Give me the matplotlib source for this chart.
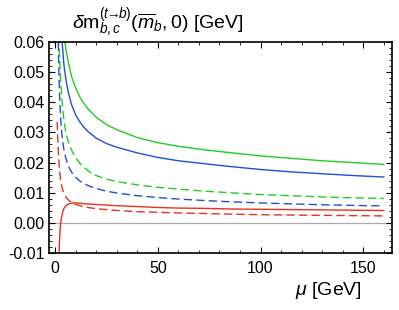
import matplotlib
matplotlib.use("Agg")
import matplotlib.pyplot as plt
from matplotlib.ticker import MultipleLocator, FormatStrFormatter

plt.rcParams['font.family'] = ['Liberation Sans', 'DejaVu Sans']
plt.rcParams['mathtext.fontset'] = 'custom'
plt.rcParams['mathtext.rm'] = 'Liberation Sans'
plt.rcParams['mathtext.it'] = 'Liberation Sans:italic'
plt.rcParams['axes.unicode_minus'] = True

# values (mu in GeV, delta m in GeV)
mu_green = [4.0, 4.7, 5.5, 6.5, 8, 10, 12, 14, 16, 20, 25, 30, 40, 50, 60, 73, 85, 100, 115, 130, 145, 160]
green_solid = [0.068, 0.060, 0.0565, 0.0530, 0.0485, 0.0447, 0.0418, 0.0396, 0.0378, 0.0350, 0.0326, 0.0309,
               0.0283, 0.0266, 0.0254, 0.0242, 0.0233, 0.0222, 0.0214, 0.0206, 0.0200, 0.0194]

mu_blue = [3.0, 3.4, 4.0, 4.5, 5.5, 6.5, 8, 10, 12, 14, 16, 20, 25, 30, 40, 50, 60, 73, 85, 100, 115, 130, 145, 160]
blue_solid = [0.068, 0.060, 0.0545, 0.051, 0.0465, 0.0430, 0.0392, 0.0358, 0.0335, 0.0317, 0.0303, 0.0281,
              0.0263, 0.0251, 0.0232, 0.0217, 0.0206, 0.0196, 0.0187, 0.0177, 0.0169, 0.0163, 0.0157, 0.0152]

mu_red = [1.8, 2.0, 2.2, 2.5, 2.8, 3.2, 3.7, 4.3, 5.0, 6.0, 7.0, 8.5, 10, 12, 15, 20, 25, 30, 40, 50, 60, 73,
          85, 100, 115, 130, 145, 160]
red_solid = [-0.013, -0.008, -0.0045, -0.0015, 0.0005, 0.0022, 0.0037, 0.0048, 0.0055, 0.0061, 0.0064, 0.0066,
             0.0066, 0.0065, 0.0063, 0.0061, 0.0059, 0.0057, 0.0054, 0.0051, 0.0049, 0.0048, 0.0046, 0.0045,
             0.0044, 0.0043, 0.0042, 0.0041]

mu_green_d = [1.8, 2.2, 2.7, 3.4, 4.2, 5.0, 6.0, 7.0, 8.5, 10, 12, 14, 17, 20, 25, 30, 40, 50, 60, 73, 85, 100,
              115, 130, 145, 160]
green_dashed = [0.062, 0.054, 0.047, 0.040, 0.0345, 0.0308, 0.0278, 0.0257, 0.0234, 0.0216, 0.0198, 0.0184,
                0.0168, 0.0157, 0.0145, 0.0137, 0.0126, 0.0118, 0.0112, 0.0105, 0.0100, 0.0094, 0.0090,
                0.0086, 0.0083, 0.0081]

mu_blue_d = [1.4, 1.6, 1.9, 2.2, 2.6, 3.0, 3.5, 4.2, 5.0, 6.0, 7.0, 8.5, 10, 12, 14, 17, 20, 25, 30, 40, 50, 60,
             73, 85, 100, 115, 130, 145, 160]
blue_dashed = [0.064, 0.056, 0.048, 0.0415, 0.0355, 0.031, 0.0278, 0.0245, 0.0220, 0.0197, 0.0180, 0.0163,
               0.0151, 0.0139, 0.0130, 0.0121, 0.0114, 0.0105, 0.0099, 0.0090, 0.0084, 0.0079, 0.0074,
               0.0070, 0.0066, 0.0063, 0.0060, 0.0058, 0.0056]

mu_red_d = [1.0, 1.2, 1.5, 1.8, 2.2, 2.7, 3.3, 4.0, 5.0, 6.0, 7.0, 8.5, 10, 12, 15, 20, 25, 30, 40, 50, 60, 73,
            85, 100, 115, 130, 145, 160]
red_dashed = [0.0335, 0.029, 0.0245, 0.0205, 0.0170, 0.0140, 0.0118, 0.0102, 0.0088, 0.0079, 0.0073, 0.0066,
              0.0061, 0.0057, 0.0052, 0.0047, 0.0044, 0.0041, 0.0037, 0.0035, 0.0033, 0.0031, 0.0029, 0.0027,
              0.0026, 0.0025, 0.0024, 0.0023]

GREEN = '#22cc22'
BLUE = '#2050d8'
RED = '#e8301e'

fig = plt.figure(figsize=(3.99, 3.10), dpi=100)
ax = fig.add_axes([49 / 399, 1 - 253 / 310, (392 - 49) / 399, (253 - 42) / 310])

ax.axhline(0, color='#aaaaaa', lw=0.9, zorder=1)

lw = 1.0
dash = (0, (6, 3))
ax.plot(mu_green, green_solid, color=GREEN, lw=lw)
ax.plot(mu_blue, blue_solid, color=BLUE, lw=lw)
ax.plot(mu_red, red_solid, color=RED, lw=lw)
ax.plot(mu_green_d, green_dashed, color=GREEN, lw=lw, linestyle=dash)
ax.plot(mu_blue_d, blue_dashed, color=BLUE, lw=lw, linestyle=dash)
ax.plot(mu_red_d, red_dashed, color=RED, lw=lw, linestyle=dash)

ax.set_xlim(-3, 164)
ax.set_ylim(-0.01, 0.06)

ax.xaxis.set_major_locator(MultipleLocator(50))
ax.xaxis.set_minor_locator(MultipleLocator(10))
ax.yaxis.set_major_locator(MultipleLocator(0.01))
ax.yaxis.set_minor_locator(MultipleLocator(0.002))
ax.yaxis.set_major_formatter(FormatStrFormatter('%.2f'))

ax.tick_params(which='both', direction='in', top=True, right=True, labelsize=11.5, colors='black')
ax.tick_params(which='major', length=4, width=0.8, pad=3)
ax.tick_params(axis='x', which='major', pad=6)
ax.tick_params(which='minor', length=2, width=0.6)
for s in ax.spines.values():
    s.set_linewidth(1.2)

fig.text(72 / 399, 1 - 29 / 310,
         r'$\delta\mathrm{m}_{b,c}^{(t\!\!\rightarrow\!\! b)}(\overline{m}_b,0)$ [GeV]',
         fontsize=14, ha='left', va='baseline')
fig.text(362 / 399, 1 - 295 / 310, r'$\mu$ [GeV]', fontsize=14, ha='right', va='baseline')

fig.savefig('out.png', dpi=100)
